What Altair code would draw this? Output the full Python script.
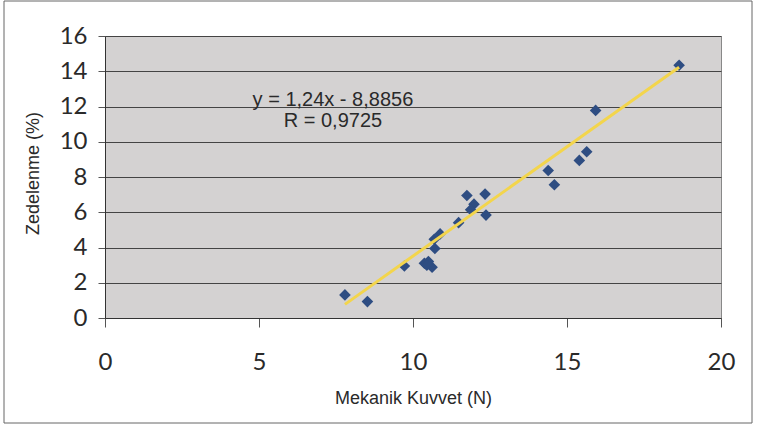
import altair as alt
import pandas as pd

# Measured samples: mechanical force (N) vs. damage (%)
kuvvet = [7.79, 8.52, 9.72, 10.37, 10.50, 10.62, 10.45, 10.71, 10.69, 10.88,
          11.48, 11.75, 12.34, 11.98, 11.87, 12.37, 14.39, 14.59, 15.40, 15.64,
          15.93, 18.64]
zedelenme = [1.31, 0.93, 2.95, 3.11, 3.20, 2.88, 3.00, 3.94, 4.47, 4.77,
             5.41, 6.95, 7.03, 6.46, 6.14, 5.84, 8.37, 7.56, 8.94, 9.43,
             11.78, 14.34]

# Linear trendline y = a*x + b and its correlation
SLOPE = 1.24
INTERCEPT = -8.8856
R_VALUE = 0.9725

eq_lines = [
    "y = 1,24x - 8,8856",
    "R = 0,9725",
]

x_ticks = [0, 5, 10, 15, 20]
y_ticks = [0, 2, 4, 6, 8, 10, 12, 14, 16]

points = pd.DataFrame({"kuvvet": kuvvet, "zedelenme": zedelenme})
x_lo, x_hi = min(kuvvet), max(kuvvet)
trend = pd.DataFrame({
    "kuvvet": [x_lo, x_hi],
    "zedelenme": [SLOPE * x_lo + INTERCEPT, SLOPE * x_hi + INTERCEPT],
})
labels = pd.DataFrame({
    "kuvvet": [7.4, 7.4],
    "zedelenme": [12.05, 10.85],
    "text": eq_lines,
})

x_scale = alt.Scale(domain=[0, 20], nice=False, zero=False)
y_scale = alt.Scale(domain=[0, 16], nice=False, zero=False)

x_axis = alt.Axis(
    title="Mekanik Kuvvet (N)", values=x_ticks, grid=False,
    labelFont="Lato", labelFontSize=24, labelColor="#2a2a2a",
    labelPadding=23, tickSize=9, tickColor="#555555",
    domainColor="#333333", labelOverlap=False, labelFlush=False,
    titleFont="Liberation Sans", titleFontSize=18, titleFontWeight="normal",
    titleColor="#2a2a2a", titleBaseline="alphabetic", titleY=85,
)
y_axis = alt.Axis(
    title="Zedelenme (%)", values=y_ticks, tickCount=9, grid=True,
    gridColor="#444444", gridWidth=1, labelOverlap=False, labelFlush=False,
    labelFont="Lato", labelFontSize=24, labelColor="#2a2a2a",
    labelPadding=11, tickSize=7, tickColor="#555555",
    domainColor="#333333",
    titleFont="Liberation Sans", titleFontSize=18, titleFontWeight="normal",
    titleColor="#2a2a2a", titleX=-72, titleY=137,
    titleAlign="center", titleBaseline="middle", titleAngle=270,
)

frame = alt.Chart(pd.DataFrame({"k": [0]})).mark_rect(
    fill=None, stroke="#666666", strokeWidth=1
).encode(
    x=alt.value(-101), x2=alt.value(647),
    y=alt.value(-35), y2=alt.value(387),
)

base = alt.Chart(points).mark_point(
    shape="diamond", filled=True, size=135, color="#2e4d82", opacity=1
).encode(
    x=alt.X("kuvvet:Q", scale=x_scale, axis=x_axis),
    y=alt.Y("zedelenme:Q", scale=y_scale, axis=y_axis),
)

line = alt.Chart(trend).mark_line(color="#f3d54c", strokeWidth=3).encode(
    x=alt.X("kuvvet:Q", scale=x_scale),
    y=alt.Y("zedelenme:Q", scale=y_scale),
)

text = alt.Chart(labels).mark_text(
    font="Liberation Sans", fontSize=20, color="#2a2a2a",
    align="center", baseline="alphabetic",
).encode(
    x=alt.X("kuvvet:Q", scale=x_scale),
    y=alt.Y("zedelenme:Q", scale=y_scale),
    text="text:N",
)

chart = alt.layer(frame, base, line, text).properties(
    width=616, height=282,
    autosize=alt.AutoSizeParams(type="none"),
    padding={"left": 105, "top": 36, "right": 38, "bottom": 111},
    background="white",
).configure_view(
    fill="#d4d2d2", stroke="#888888", strokeWidth=1
)

chart.save("out.html", embed_options={"renderer": "svg", "actions": False})
